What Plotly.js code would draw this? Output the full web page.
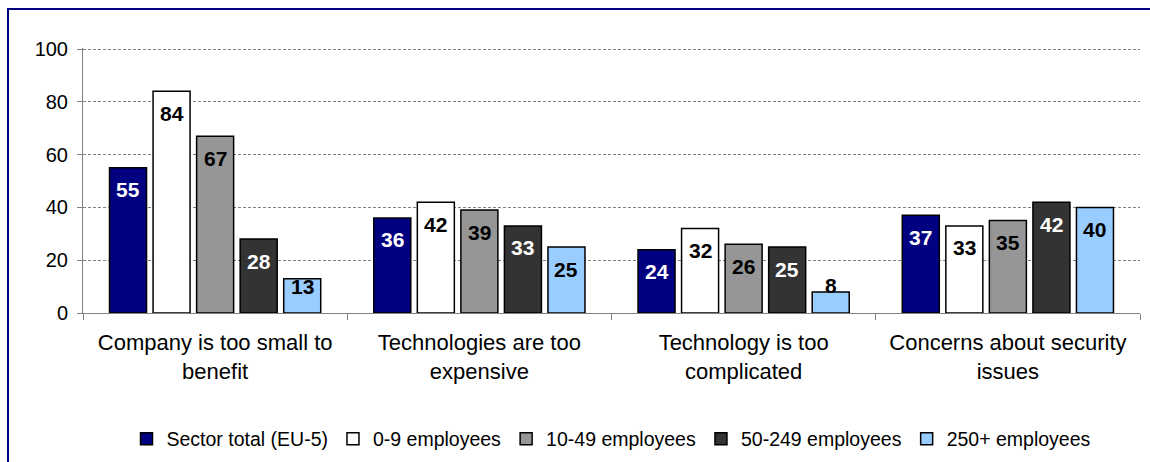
<!DOCTYPE html>
<html>
<head>
<meta charset="utf-8">
<script src="https://cdn.plot.ly/plotly-3.0.1.min.js"></script>
<style>
  html, body { margin: 0; padding: 0; background: #fff; }
  #wrap { position: relative; width: 1150px; height: 462px; overflow: hidden; }
  #chart { width: 1150px; height: 462px; }
  #frame { position: absolute; left: 7px; top: 8px; width: 1200px; height: 500px;
           border-left: 2px solid #000080; border-top: 2px solid #000080; pointer-events: none; }
</style>
</head>
<body>
<div id="wrap">
  <div id="chart"></div>
  <div id="frame"></div>
</div>
<script>
// ---- data ----
const categories = [
  "Company is too small to<br>benefit",
  "Technologies are too<br>expensive",
  "Technology is too<br>complicated",
  "Concerns about security<br>issues"
];
const seriesNames = ["Sector total (EU-5)", "0-9 employees", "10-49 employees", "50-249 employees", "250+ employees"];
const sectorTotal = [55, 36, 24, 37];
const emp0to9 = [84, 42, 32, 33];
const emp10to49 = [67, 39, 26, 35];
const emp50to249 = [28, 33, 25, 42];
const emp250plus = [13, 25, 8, 40];
const yTicks = [0, 20, 40, 60, 80, 100];

const seriesValues = [sectorTotal, emp0to9, emp10to49, emp50to249, emp250plus];
const colors = ["#000080", "#FFFFFF", "#969696", "#333333", "#99CCFF"];
const labelColors = ["#FFFFFF", "#000000", "#000000", "#FFFFFF", "#000000"];

const FONT = '"Liberation Sans", Arial, sans-serif';
const margin = {l: 83, r: 10, t: 48, b: 149};
const H = 462;
const plotH = H - margin.t - margin.b;
const yMax = 100.4;
const ppu = plotH / yMax;
const bargap = 0.176, bargroupgap = 0.15;
const nS = seriesValues.length;
const slot = (1 - bargap) / nS;

const traces = seriesValues.map((vals, i) => ({
  type: 'bar',
  name: seriesNames[i],
  x: categories,
  y: vals,
  marker: {color: colors[i], line: {color: '#000000', width: 1.5}},
  hoverinfo: 'name+y'
}));

const annotations = [];
seriesValues.forEach((vals, i) => {
  vals.forEach((v, c) => {
    const px = v * ppu;
    annotations.push({
      x: c + (i - (nS - 1) / 2) * slot,
      y: v,
      xref: 'x', yref: 'y',
      text: '<b>' + v + '</b>',
      showarrow: false,
      yanchor: 'middle',
      yshift: Math.max(-22, 27 - px),
      font: {family: FONT, size: 21, color: labelColors[i]}
    });
  });
});

const layout = {
  width: 1150, height: 462,
  margin: margin,
  paper_bgcolor: '#FFFFFF',
  plot_bgcolor: '#FFFFFF',
  barmode: 'group',
  bargap: bargap,
  bargroupgap: bargroupgap,
  font: {family: FONT, size: 20, color: '#000000'},
  showlegend: true,
  legend: {
    orientation: 'h',
    xref: 'paper', x: 0.5, xanchor: 'center',
    yref: 'container', y: 1 - 439 / 462, yanchor: 'middle',
    font: {family: FONT, size: 19.5, color: '#000000'},
    traceorder: 'normal',
    bgcolor: 'rgba(0,0,0,0)'
  },
  xaxis: {
    type: 'category',
    showline: true, linecolor: '#808080', linewidth: 1,
    ticks: 'outside', tickson: 'boundaries', ticklen: 6, tickcolor: '#808080',
    showgrid: false,
    ticklabelstandoff: 10,
    tickfont: {family: FONT, size: 22, color: '#000000'},
    automargin: false
  },
  yaxis: {
    range: [0, yMax],
    tickvals: yTicks,
    ticktext: yTicks.map(String),
    showline: true, linecolor: '#808080', linewidth: 1,
    ticks: 'outside', ticklen: 5, tickcolor: '#808080',
    showgrid: true, gridcolor: '#808080', gridwidth: 1, griddash: '3px,2px',
    zeroline: false,
    ticklabelstandoff: 5,
    tickfont: {family: FONT, size: 20, color: '#000000'},
    automargin: false
  },
  annotations: annotations
};

Plotly.newPlot('chart', traces, layout, {displayModeBar: false, staticPlot: true});
</script>
</body>
</html>
